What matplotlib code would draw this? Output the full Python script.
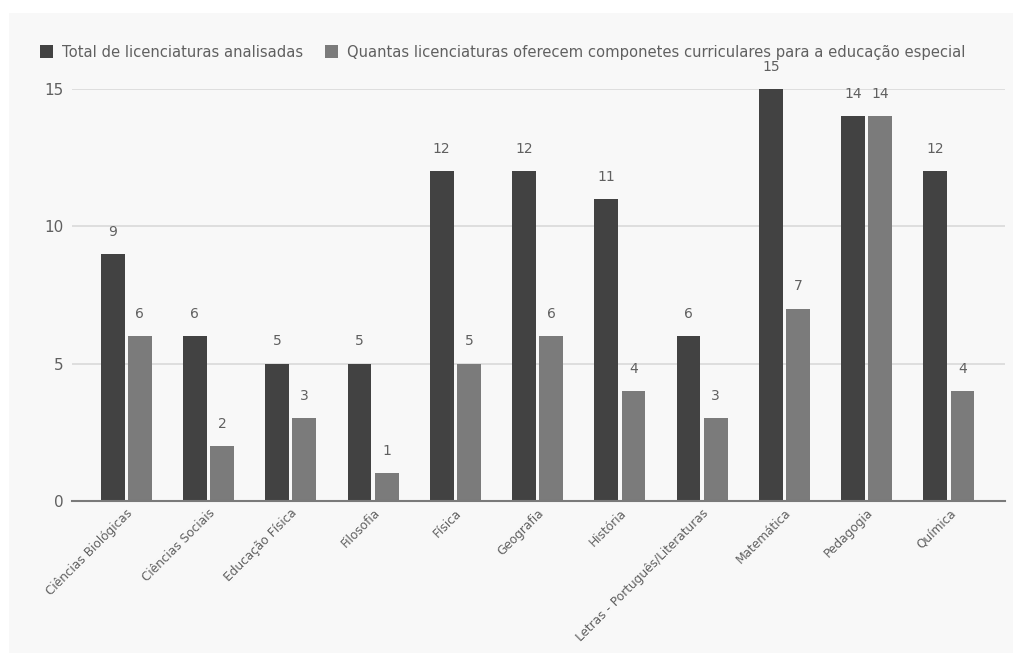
import numpy as np
import matplotlib.pyplot as plt
from matplotlib.patches import Rectangle

categories = ['Ciências Biológicas', 'Ciências Sociais', 'Educação Física', 'Filosofia',
              'Física', 'Geografia', 'História', 'Letras - Português/Literaturas',
              'Matemática', 'Pedagogia', 'Química']
total = [9, 6, 5, 5, 12, 12, 11, 6, 15, 14, 12]
especial = [6, 2, 3, 1, 5, 6, 4, 3, 7, 14, 4]
labels = ['Total de licenciaturas analisadas',
          'Quantas licenciaturas oferecem componetes curriculares para a educação especial']

dark = '#424242'
light = '#7b7b7b'
txt = '#606060'

fig = plt.figure(figsize=(10.13, 6.53), dpi=100, facecolor='white')
fig.patches.append(Rectangle((9 / 1013, 0), 1, 1 - 13 / 653, transform=fig.transFigure,
                             facecolor='#f8f8f8', edgecolor='none', zorder=-10))
ax = fig.add_axes([0.071, 0.233, 0.921, 0.631])
ax.set_facecolor('none')

x = np.arange(len(categories))
w = 0.29
b1 = ax.bar(x - w / 2 - 0.02, total, w, color=dark, label=labels[0], zorder=3)
b2 = ax.bar(x + w / 2 + 0.02, especial, w, color=light, label=labels[1], zorder=3)

for bars in (b1, b2):
    for r in bars:
        ax.text(r.get_x() + r.get_width() / 2, r.get_height() + 0.55, str(int(r.get_height())),
                ha='center', va='bottom', fontsize=10, color=txt, clip_on=False)

ax.set_ylim(0, 15)
ax.set_xlim(-0.66, 10.68)
ax.set_yticks([0, 5, 10, 15])
ax.yaxis.grid(True, color='#d9d9d9', linewidth=1.2, zorder=0)
ax.tick_params(axis='y', length=0, labelsize=11, labelcolor=txt, pad=6)
ax.tick_params(axis='x', length=0, labelsize=8.7, labelcolor=txt, pad=4)
ax.set_xticks(x)
ax.set_xticklabels(categories, rotation=45, ha='right', rotation_mode='anchor')
for s in ['top', 'right', 'left']:
    ax.spines[s].set_visible(False)
ax.spines['bottom'].set_color('#7a7a7a')
ax.spines['bottom'].set_linewidth(1.5)
ax.spines['bottom'].set_zorder(4)

fig.legend(handles=[b1, b2], labels=labels, loc='upper left', bbox_to_anchor=(0.026, 0.952),
           ncol=2, frameon=False, fontsize=10.6, labelcolor=txt, handlelength=0.9,
           handleheight=0.9, handletextpad=0.6, columnspacing=1.5)

fig.savefig('out.png', dpi=100, facecolor=fig.get_facecolor())
